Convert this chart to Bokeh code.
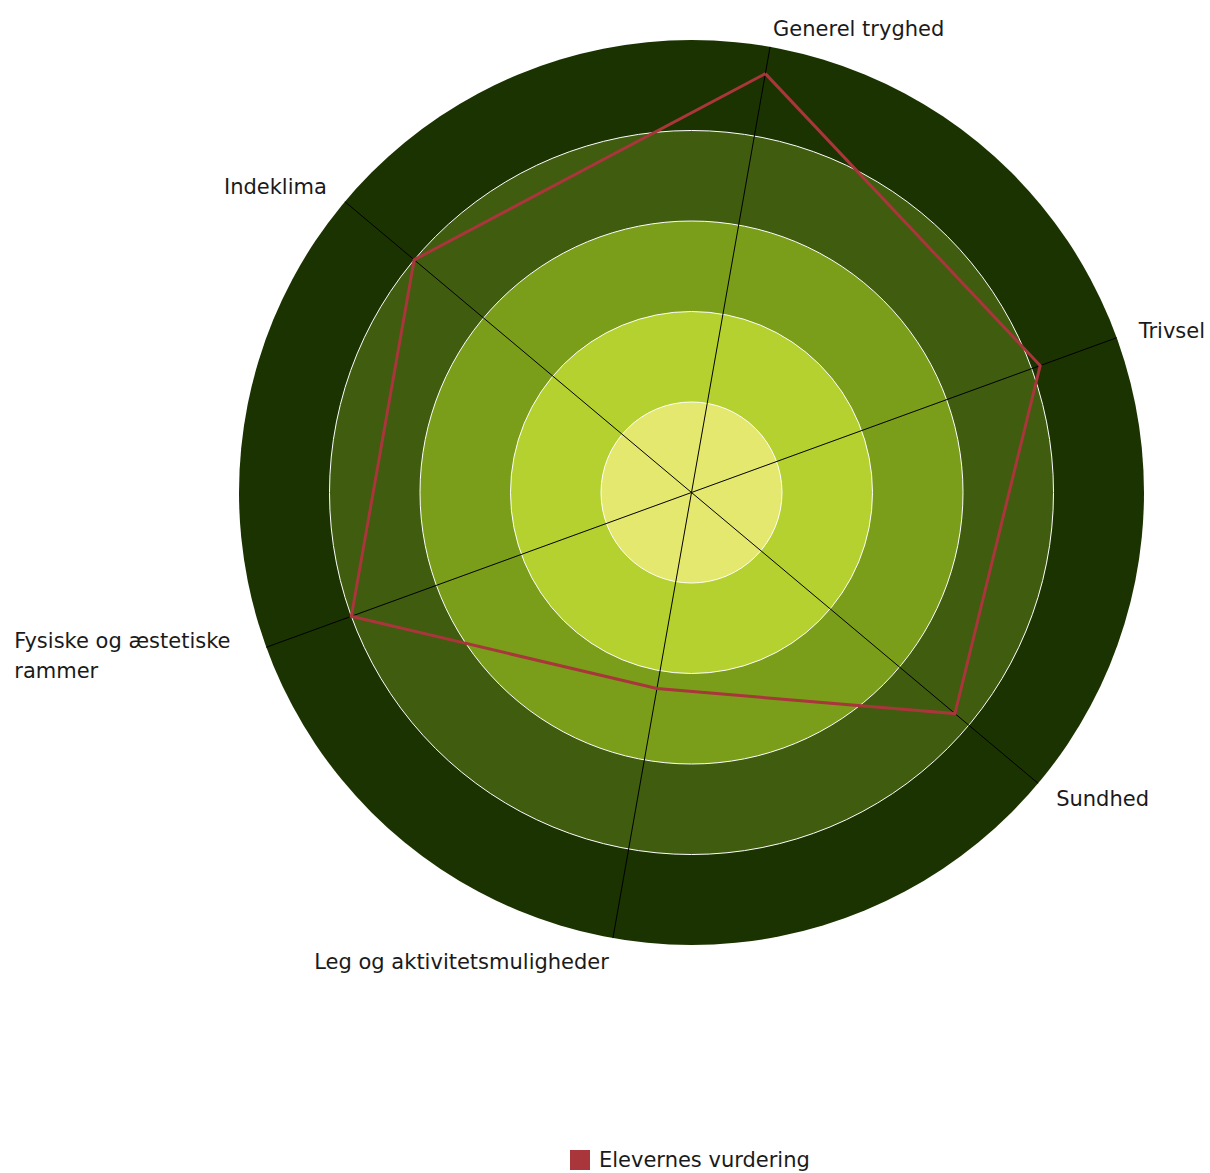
import math
from bokeh.plotting import figure
from bokeh.models import Range1d, Legend, LegendItem
from bokeh.core.properties import value
from bokeh.embed import file_html
from bokeh.resources import INLINE

categories = ["Generel tryghed", "Trivsel", "Sundhed", "Leg og aktivitetsmuligheder",
              "Fysiske og æstetiske\nrammer", "Indeklima"]
scores = [4.7, 4.1, 3.8, 2.2, 4.0, 4.0]
series_name = "Elevernes vurdering"
ring_levels = [5, 4, 3, 2, 1]
ring_colors = ["#1a3300", "#3f5c0f", "#7a9e1a", "#b5d12f", "#e5e86e"]

W, H = 1210, 1173
CX, CY = 691, 492      # centre in figure pixels from top-left
UNIT = 90.5            # pixels per score unit
START_DEG = 10.0

p = figure(width=W, height=H, output_backend="svg", toolbar_location=None,
           x_range=Range1d(-CX / UNIT, (W - CX) / UNIT),
           y_range=Range1d(-(H - CY) / UNIT, CY / UNIT),
           min_border=0, outline_line_color=None)
p.axis.visible = False
p.grid.visible = False
p.background_fill_color = "white"

# rings
for lvl, col in zip(ring_levels, ring_colors):
    p.circle(x=[0], y=[0], radius=lvl, fill_color=col,
             line_color=None if lvl == max(ring_levels) else "white", line_width=1)

n = len(categories)
angles = [math.radians(START_DEG + 360.0 * i / n) for i in range(n)]
rmax = max(ring_levels)

# spokes
p.segment(x0=[0] * n, y0=[0] * n,
          x1=[rmax * math.sin(a) for a in angles],
          y1=[rmax * math.cos(a) for a in angles],
          line_color="black", line_width=1)

# series polygon
xs = [s * math.sin(a) for s, a in zip(scores, angles)]
ys = [s * math.cos(a) for s, a in zip(scores, angles)]
p.line(x=xs + xs[:1], y=ys + ys[:1], line_color="#a8363b", line_width=3,
       line_join="miter")

# labels
offsets = [(3, -18, "left"), (22, -7, "left"), (18, 16, "left"),
           (-4, 24, "right"), (-252, 9, "left"), (-18, -15, "right")]
for cat, a, (dx, dy, al) in zip(categories, angles, offsets):
    p.text(x=[rmax * math.sin(a)], y=[rmax * math.cos(a)], text=[cat],
           x_offset=dx, y_offset=dy, text_align=al, text_baseline="middle",
           text_font=value("DejaVu Sans"), text_font_size="21px",
           text_color="#1a1a1a", text_line_height=1.25)

# legend (zero-size marks; legend swatch drawn from their fill)
swatch = p.rect(x=xs, y=ys, width=0, height=0, fill_color="#a8363b", line_color=None)
legend = Legend(items=[LegendItem(label=series_name, renderers=[swatch])],
                location=(567, 1), orientation="horizontal",
                glyph_width=25, glyph_height=25, label_standoff=7,
                padding=0, margin=0, border_line_color=None,
                background_fill_alpha=0, label_text_font="DejaVu Sans",
                label_text_font_size="21px", label_text_color="#1a1a1a")
p.add_layout(legend, "center")

open("out.html", "w").write(file_html(p, INLINE))
